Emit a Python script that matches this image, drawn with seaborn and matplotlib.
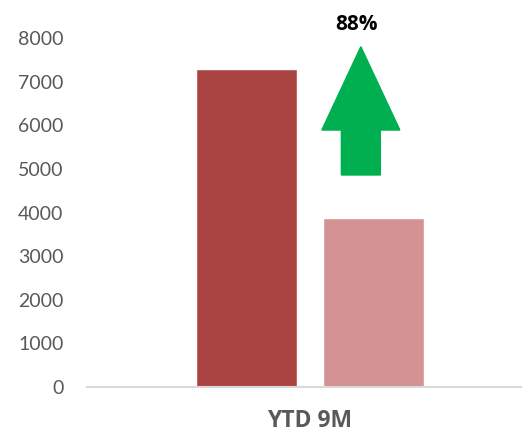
import matplotlib
matplotlib.use("Agg")
import matplotlib.pyplot as plt
import seaborn as sns
import pandas as pd

# Data
categories = ["YTD 9M"]
series = ["Current", "Previous"]
values = [7300, 3880]
colors = ["#A94442", "#D49392"]
growth_label = "88%"

sns.set_style("white")
plt.rcParams["font.family"] = ["Lato", "DejaVu Sans"]

df = pd.DataFrame({"period": categories * len(series), "series": series, "value": values})

fig = plt.figure(figsize=(5.22, 4.33), dpi=100)
ax = fig.add_axes([87 / 522, (433 - 387) / 433, 446 / 522, 349 / 433])

sns.barplot(data=df, x="period", y="value", hue="series", palette=colors,
            width=0.57, gap=0.205, saturation=1, legend=False, ax=ax)

ax.set_xlim(-0.5, 0.5)
ax.set_ylim(0, 8000)
ax.set_yticks(range(0, 8001, 1000))
ax.set_xlabel("")
ax.set_ylabel("")
for s in ["top", "right", "left"]:
    ax.spines[s].set_visible(False)
ax.spines["bottom"].set_color("#D9D9D9")
ax.spines["bottom"].set_linewidth(1.5)
ax.tick_params(axis="y", length=0, labelsize=14, labelcolor="#595959", pad=17)
ax.tick_params(axis="x", length=0, pad=16)
ax.set_xticks([0])
ax.set_xticklabels(categories, fontsize=16.5, fontweight="bold", color="#595959",
                   family=["Open Sans", "DejaVu Sans"])

# Growth arrow
ax.arrow(0.114, 4860, 0, 2940, width=0.0874, head_width=0.175, head_length=1910,
         length_includes_head=True, color="#00B050", clip_on=False, zorder=3)
ax.text(0.104, 8300, growth_label, ha="center", va="center", fontsize=15,
        fontweight="bold", color="black", family=["Open Sans", "DejaVu Sans"],
        clip_on=False)

fig.savefig("out.png", dpi=100)
